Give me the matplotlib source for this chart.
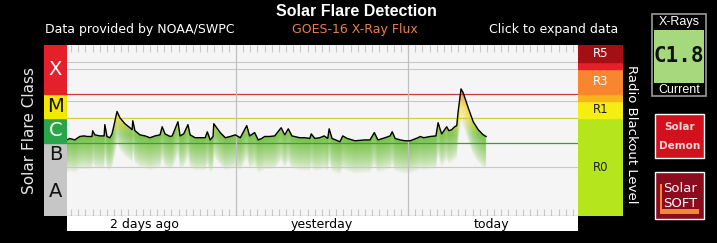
import numpy as np
import matplotlib
matplotlib.use('Agg')
import matplotlib.pyplot as plt
from matplotlib.patches import Rectangle
from matplotlib.transforms import blended_transform_factory

W, H = 717, 243

# GOES-16 long channel, hours from the left edge of the 3 day window
hours = [0.4, 0.8, 1.5, 2.2, 2.8, 3.2, 3.9, 4.0, 4.3, 5.0,
         5.6, 5.7, 6.0, 6.4, 6.7, 7.0, 7.4, 7.8, 8.5, 9.2,
         9.5, 9.6, 9.9, 10.6, 11.3, 12.0, 12.7, 13.4, 13.7, 14.1,
         14.8, 15.1, 15.9, 16.2, 16.7, 17.3, 17.6, 18.3, 19.0, 19.7,
         20.0, 20.4, 20.8, 20.9, 21.8, 22.5, 23.2, 23.9, 24.6, 25.5,
         25.9, 26.6, 27.1, 27.6, 28.0, 28.7, 29.4, 30.3, 30.8, 31.3,
         31.8, 32.9, 33.6, 34.3, 34.5, 35.0, 35.7, 36.3, 36.8, 37.0,
         37.4, 38.5, 38.9, 39.5, 40.6, 42.0, 42.7, 43.3, 43.8, 44.8,
         45.5, 45.8, 46.2, 46.9, 47.6, 48.3, 49.4, 49.7, 50.2, 51.1,
         51.9, 52.2, 52.5, 52.7, 53.4, 53.7, 54.1, 54.5, 54.8, 55.0,
         55.4, 55.7, 56.4, 57.1, 57.8, 58.5, 58.9]
flux = [1.3e-6, 1.5e-6, 1.3e-6, 1.8e-6, 1.9e-6, 1.8e-6, 1.8e-6, 3.1e-6, 2.1e-6, 1.9e-6,
        1.9e-6, 5.5e-6, 1.8e-6, 1.6e-6, 2.3e-6, 5.5e-6, 1.9e-5, 1.05e-5, 6.0e-6, 4.1e-6,
        3.4e-6, 7.9e-6, 3.1e-6, 2.1e-6, 1.9e-6, 1.6e-6, 1.9e-6, 2.1e-6, 4.5e-6, 2.3e-6,
        1.8e-6, 1.9e-6, 7.2e-6, 1.9e-6, 2.3e-6, 5.5e-6, 2.1e-6, 1.6e-6, 1.6e-6, 1.6e-6,
        2.8e-6, 1.3e-6, 1.8e-6, 6.0e-6, 2.6e-6, 1.6e-6, 1.8e-6, 2.1e-6, 1.6e-6, 5.0e-6,
        1.9e-6, 2.6e-6, 1.3e-6, 1.5e-6, 1.8e-6, 1.8e-6, 1.9e-6, 4.1e-6, 2.1e-6, 3.7e-6,
        1.9e-6, 1.6e-6, 1.6e-6, 1.5e-6, 2.3e-6, 1.5e-6, 1.6e-6, 1.9e-6, 1.5e-6, 3.7e-6,
        1.5e-6, 1.1e-6, 1.9e-6, 1.5e-6, 1.2e-6, 1.3e-6, 1.3e-6, 2.6e-6, 1.3e-6, 1.6e-6,
        1.9e-6, 2.8e-6, 1.5e-6, 1.3e-6, 1.2e-6, 1.2e-6, 1.6e-6, 1.8e-6, 1.6e-6, 1.8e-6,
        1.9e-6, 6.6e-6, 3.4e-6, 2.3e-6, 4.5e-6, 3.1e-6, 3.4e-6, 4.5e-6, 5.0e-6, 1.9e-5,
        1.6e-4, 1.1e-4, 2.7e-5, 7.2e-6, 3.4e-6, 2.1e-6, 1.8e-6]

class_names = ['A', 'B', 'C', 'M', 'X']
class_lo = [1e-9, 1e-7, 1e-6, 1e-5, 1e-4]
class_hi = [1e-7, 1e-6, 1e-5, 1e-4, 1e-2]
class_colors = ['#c6c6c6', '#c6c6c6', '#2aa64a', '#f4e800', '#e4202a']
class_text = ['#111111', '#111111', 'white', '#111111', 'white']

r_names = ['R0', 'R1', '', 'R3', '', 'R5']
r_lo = [1e-9, 1e-5, 5e-5, 1e-4, 1e-3, 2e-3]
r_hi = [1e-5, 5e-5, 1e-4, 1e-3, 2e-3, 1e-2]
r_colors = ['#b5e61d', '#f6ee10', '#f8b41c', '#f7862e', '#e3202a', '#a30f14']
r_text = ['#222222', '#222222', '', 'white', '', 'white']

day_labels = ['2 days ago', 'yesterday', 'today']
day_pos = [11.2, 36.0, 59.6]
current = 'C1.8'

t0, t1 = 0.42, 71.72


def px(x0, y0, x1, y1):
    return [x0 / W, 1 - y1 / H, (x1 - x0) / W, (y1 - y0) / H]


fig = plt.figure(figsize=(W / 100, H / 100), dpi=100, facecolor='black')

# gradient fill under the curve (drawn in log10 units)
bg = fig.add_axes(px(67, 45, 578, 216))
bg.set_facecolor('#f5f5f5')
bg.set_xlim(t0, t1)
bg.set_ylim(-9, -2)
bg.set_xticks([])
bg.set_yticks([])
for s in bg.spines.values():
    s.set_visible(False)

tt = np.linspace(t0, t1, 1400)
yy = np.linspace(-9, -2, 900)
top = np.interp(tt, hours, np.log10(flux), left=np.nan, right=np.nan)
d = top[None, :] - yy[:, None]
alpha = np.clip(1 - d / 1.35, 0, 1) ** 0.7 * 0.95
alpha[d < 0] = 0
alpha[np.isnan(d)] = 0
green = np.array([0.44, 0.75, 0.24])
yellow = np.array([0.96, 0.86, 0.22])
orange = np.array([0.92, 0.62, 0.16])
w1 = np.clip((yy + 5.7) / 0.8, 0, 1)[:, None]
w2 = np.clip((yy + 4.6) / 0.6, 0, 1)[:, None]
col = green * (1 - w1) + yellow * w1
col = col * (1 - w2) + orange * w2
rgba = np.zeros((len(yy), len(tt), 4))
rgba[..., :3] = col[:, None, :]
rgba[..., 3] = alpha
bg.imshow(rgba, extent=(t0, t1, -9, -2), origin='lower', aspect='auto',
          interpolation='bilinear')

# main plot
ax = fig.add_axes(px(67, 45, 578, 216))
ax.patch.set_alpha(0)
ax.set_yscale('log')
ax.set_ylim(1e-9, 1e-2)
ax.set_xlim(t0, t1)
for v in [2e-3, 1e-3, 5e-5, 1e-7]:
    ax.axhline(v, color='#c8c8c8', lw=0.8)
ax.axhline(1e-4, color='#cc3b3b', lw=0.9)
ax.axhline(1e-5, color='#d6cc48', lw=0.9)
ax.axhline(1e-6, color='#3c9c3c', lw=0.9)
ax.axvline(24, color='#c0c0c0', lw=0.9)
ax.axvline(48, color='#c0c0c0', lw=0.9)
ax.plot(hours, flux, color='black', lw=1.0)
ax.set_xticks([])
ax.set_xticks(np.arange(1, 72), minor=True)
ax.set_yticks([])
ax.yaxis.set_minor_locator(matplotlib.ticker.NullLocator())
ax.tick_params(which='minor', direction='in', length=5, width=0.8,
               color='#c8c8c8', top=True, bottom=True, labelbottom=False)
for s in ['top', 'left', 'right']:
    ax.spines[s].set_visible(False)
ax.spines['bottom'].set_color('black')

# flare class column
cax = fig.add_axes(px(44, 45, 67, 216))
cax.set_yscale('log')
cax.set_ylim(1e-9, 1e-2)
cax.set_xlim(0, 1)
tr = blended_transform_factory(cax.transAxes, cax.transData)
for n, lo, hi, c, tc in zip(class_names, class_lo, class_hi, class_colors, class_text):
    cax.axhspan(lo, hi, color=c)
    cax.text(0.5, np.sqrt(lo * hi), n, transform=tr, ha='center', va='center',
             fontsize=14, color=tc)
cax.axis('off')

# radio blackout column
rax = fig.add_axes(px(578, 45, 623, 216))
rax.set_yscale('log')
rax.set_ylim(1e-9, 1e-2)
rax.set_xlim(0, 1)
tr = blended_transform_factory(rax.transAxes, rax.transData)
for n, lo, hi, c, tc in zip(r_names, r_lo, r_hi, r_colors, r_text):
    rax.axhspan(lo, hi, color=c)
    if n:
        rax.text(0.5, np.sqrt(lo * hi), n, transform=tr, ha='center', va='center',
                 fontsize=8.5, color=tc)
rax.axis('off')

# day labels strip
lax = fig.add_axes(px(67, 216, 578, 231))
lax.set_facecolor('white')
lax.set_xlim(t0, t1)
lax.set_ylim(0, 1)
lax.set_xticks([])
lax.set_yticks([])
for s in lax.spines.values():
    s.set_visible(False)
for lbl, p in zip(day_labels, day_pos):
    lax.text(p, 0.45, lbl, ha='center', va='center', fontsize=9, color='black')

# texts
fig.text(356 / W, 1 - 12 / H, 'Solar Flare Detection', ha='center', va='center',
         fontsize=11.5, fontweight='bold', family='Liberation Sans', color='white')
fig.text(355 / W, 1 - 30 / H, 'GOES-16 X-Ray Flux', ha='center', va='center',
         fontsize=9, color='#e8804a')
fig.text(45 / W, 1 - 29 / H, 'Data provided by NOAA/SWPC', ha='left', va='center',
         fontsize=9, color='white')
fig.text(618 / W, 1 - 29 / H, 'Click to expand data', ha='right', va='center',
         fontsize=9, color='white')
fig.text(30 / W, 1 - 131 / H, 'Solar Flare Class', rotation=90, ha='center',
         va='center', fontsize=11, color='#e8e8e8')
fig.text(632 / W, 1 - 134 / H, 'Radio Blackout Level', rotation=270, ha='center',
         va='center', fontsize=9.5, color='white')

# side widgets in pixel coords
ov = fig.add_axes([0, 0, 1, 1])
ov.set_xlim(0, W)
ov.set_ylim(H, 0)
ov.axis('off')
ov.add_patch(Rectangle((652, 14), 54, 82, fc='black', ec='#9a9a9a', lw=1.2))
ov.add_patch(Rectangle((654, 30), 50, 53, fc='#a6d97e', ec='none'))
ov.text(679, 22, 'X-Rays', ha='center', va='center', fontsize=9,
        family='Liberation Sans', color='white')
ov.text(679, 56, current, ha='center', va='center', fontsize=15,
        family='DejaVu Sans Mono', fontweight='bold', color='#111111')
ov.text(679, 90, 'Current', ha='center', va='center', fontsize=9,
        family='Liberation Sans', color='white')

ov.add_patch(Rectangle((655, 114), 49, 44, fc='#d3101b', ec='white', lw=1))
ov.text(679.5, 127, 'Solar', ha='center', va='center', fontsize=7.5,
        fontweight='bold', color='#f4d6d6')
ov.text(679.5, 146, 'Demon', ha='center', va='center', fontsize=7.5,
        fontweight='bold', color='#f4d6d6')

ov.add_patch(Rectangle((655, 172), 49, 47, fc='#8b0b1f', ec='white', lw=1))
ov.add_patch(Rectangle((660, 184), 2, 30, fc='#f08a30', ec='none'))
ov.add_patch(Rectangle((660, 209), 39, 5, fc='#f08a30', ec='none'))
ov.text(680, 188, 'Solar', ha='center', va='center', fontsize=9.5, color='white')
ov.text(680, 203, 'SOFT', ha='center', va='center', fontsize=9.5, color='white')

fig.savefig('out.png', dpi=100, facecolor='black')
